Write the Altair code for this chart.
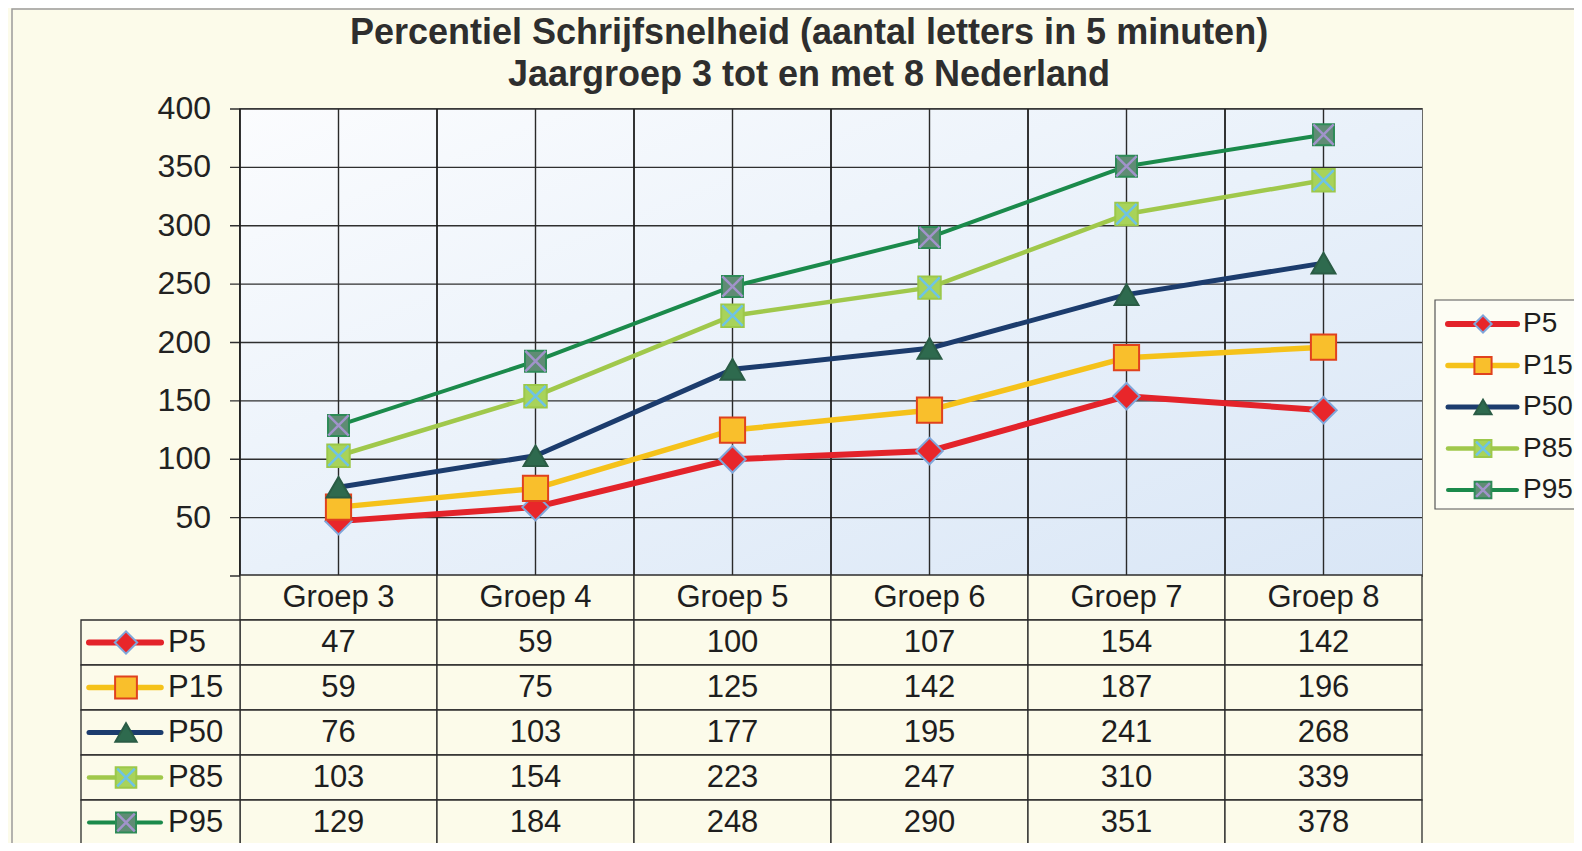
import altair as alt
import pandas as pd

# ---------------- data ----------------
groups = ["Groep 3", "Groep 4", "Groep 5", "Groep 6", "Groep 7", "Groep 8"]
series = ["P5", "P15", "P50", "P85", "P95"]
p5 = [47, 59, 100, 107, 154, 142]
p15 = [59, 75, 125, 142, 187, 196]
p50 = [76, 103, 177, 195, 241, 268]
p85 = [103, 154, 223, 247, 310, 339]
p95 = [129, 184, 248, 290, 351, 378]
y_ticks = [0, 50, 100, 150, 200, 250, 300, 350, 400]
y_labels = [50, 100, 150, 200, 250, 300, 350, 400]
title_lines = ["Percentiel Schrijfsnelheid (aantal letters in 5 minuten)",
               "Jaargroep 3 tot en met 8 Nederland"]

# ---------------- styles ----------------
line_colors = ["#E3232A", "#F5C21A", "#1C3C6D", "#A0C84B", "#1B8A4B"]
line_widths = [6, 4, 6, 7, 7]
marker_fill = ["#E8262A", "#F9BF2C", "#2E6A4E", "#A8D35A", "#5F8C74"]
marker_stroke = ["#7FA6DA", "#E0421E", "#2A5C45", "#9CC84A", "#2E8B57"]
shapes = ["diamond", "square", "triangle-up", "square", "square"]
cross_colors = {"P85": "#6EC3E6", "P95": "#A193CA"}
X_PATH = "M-0.8,-0.8L0.8,0.8M0.8,-0.8L-0.8,0.8"
FONT = "Liberation Sans"
W, H = 1182, 467
RH = 45
PAD_L, PAD_T = 232, 101
PAD_R = 1566 - PAD_L - W
PAD_B = 835 - PAD_T - H

values = {"P5": p5, "P15": p15, "P50": p50, "P85": p85, "P95": p95}
long = pd.DataFrame([{"group": g, "series": s, "row": s, "value": v}
                     for s in series for g, v in zip(groups, values[s])])
ser_df = pd.DataFrame({"series": series, "row": series})
one = pd.DataFrame({"k": [0]})

x_scale = alt.Scale(type="band", domain=groups, paddingInner=0, paddingOuter=0)
y_scale = alt.Scale(domain=[0, 400], nice=False)
color_scale = alt.Scale(domain=series, range=line_colors)
width_scale = alt.Scale(domain=series, range=line_widths)
fill_scale = alt.Scale(domain=series, range=marker_fill)
stroke_scale = alt.Scale(domain=series, range=marker_stroke)
shape_scale = alt.Scale(domain=series, range=shapes)


def X(pos=0.5):
    return alt.X("group:N", scale=x_scale, axis=None, bandPosition=pos)


def marker_layers(df, x_enc, y_enc, sizes):
    base = alt.Chart(df).encode(x=x_enc, y=y_enc)
    pts = base.mark_point(filled=True, strokeWidth=2, opacity=1).encode(
        shape=alt.Shape("series:N", scale=shape_scale, legend=None),
        fill=alt.Fill("series:N", scale=fill_scale, legend=None),
        stroke=alt.Stroke("series:N", scale=stroke_scale, legend=None),
        size=alt.Size("series:N", scale=alt.Scale(domain=series, range=sizes), legend=None),
    )
    out = [pts]
    for s, c in cross_colors.items():
        i = series.index(s)
        out.append(base.transform_filter(alt.datum.series == s).mark_point(
            shape=X_PATH, filled=False, strokeWidth=2.5, color=c,
            size=sizes[i], opacity=1))
    return out


# ---------------- frame and title ----------------
frame = alt.Chart(one).mark_rect(fillOpacity=0, stroke="#9A9A9A", strokeWidth=1.5).encode(
    x=alt.value(-228), x2=alt.value(W + 400), y=alt.value(-100), y2=alt.value(H + 400))

title_layers = [
    alt.Chart(pd.DataFrame({"t": [t]})).mark_text(
        font=FONT, fontSize=36, fontWeight="bold", color="#2E2E2E",
        align="center", baseline="middle").encode(
        text="t:N", x=alt.value(W / 2 - 22), y=alt.value(yy))
    for t, yy in zip(title_lines, [-76, -34])
]

# ---------------- main plot ----------------
grad = alt.Gradient(gradient="linear",
                    stops=[alt.GradientStop(color="#FBFCFE", offset=0),
                           alt.GradientStop(color="#E9F1FA", offset=0.5),
                           alt.GradientStop(color="#D9E6F6", offset=1)],
                    x1=0, y1=0, x2=1, y2=1)
bg = alt.Chart(one).mark_rect(fill=grad).encode(
    x=alt.value(0), x2=alt.value(W), y=alt.value(0), y2=alt.value(H))

y_tick_enc = alt.Y("v:Q", scale=y_scale, axis=None)
hgrid = alt.Chart(pd.DataFrame({"v": y_ticks})).mark_rule(color="#2F2F2F", strokeWidth=1.4).encode(
    y=y_tick_enc, x=alt.value(-10), x2=alt.value(W))
ylab = alt.Chart(pd.DataFrame({"v": y_labels})).mark_text(
    font=FONT, fontSize=32, color="#222", align="right", baseline="middle").encode(
    y=y_tick_enc, x=alt.value(-29), text="v:Q")

gdf = pd.DataFrame({"group": groups})
vedge = alt.Chart(gdf).mark_rule(color="#1E1E1E", strokeWidth=1.8).encode(x=X(0))
vcenter = alt.Chart(gdf).mark_rule(color="#2A2A2A", strokeWidth=1.4).encode(x=X(0.5))

y_val = alt.Y("value:Q", scale=y_scale, axis=None)
lines = alt.Chart(long).mark_line(strokeCap="round", strokeJoin="round").encode(
    x=X(0.5), y=y_val,
    color=alt.Color("series:N", scale=color_scale, legend=None),
    strokeWidth=alt.StrokeWidth("series:N", scale=width_scale, legend=None),
    detail="series:N")

main = alt.layer(bg, hgrid, ylab, vedge, vcenter, lines,
                 *marker_layers(long, X(0.5), y_val, [700, 440, 680, 650, 650]))

# ---------------- table ----------------
rows = ["hdr"] + series
row_scale = alt.Scale(type="band", domain=rows, range=[H - 1, H - 1 + 6 * RH],
                      paddingInner=0, paddingOuter=0)
Yr_band = alt.Y("row:N", scale=row_scale, axis=None)
Yr = alt.Y("row:N", scale=row_scale, axis=None, bandPosition=0.5)

cells = alt.Chart(pd.DataFrame([{"group": g, "row": r} for g in groups for r in rows])).mark_rect(
    fill="#FCFBEA", stroke="#2C2C2C", strokeWidth=1.3).encode(x=X(0), y=Yr_band)
left_cells = alt.Chart(ser_df).mark_rect(
    fill="#FCFBEA", stroke="#2C2C2C", strokeWidth=1.3).encode(
    x=alt.value(-159), x2=alt.value(0), y=Yr_band)
header = alt.Chart(pd.DataFrame({"group": groups, "row": ["hdr"] * len(groups)})).mark_text(
    font=FONT, fontSize=31, color="#1E1E1E", baseline="middle").encode(
    x=X(0.5), y=Yr, text="group:N")
vals = alt.Chart(long).mark_text(font=FONT, fontSize=31, color="#1E1E1E", baseline="middle").encode(
    x=X(0.5), y=Yr, text="value:Q")
left_rules = alt.Chart(ser_df).mark_rule(strokeCap="round").encode(
    x=alt.value(-151), x2=alt.value(-79), y=Yr,
    color=alt.Color("series:N", scale=color_scale, legend=None),
    strokeWidth=alt.StrokeWidth("series:N", scale=width_scale, legend=None))
left_text = alt.Chart(ser_df).mark_text(font=FONT, fontSize=31, color="#1E1E1E",
                                        align="left", baseline="middle").encode(
    x=alt.value(-72), y=Yr, text="series:N")

table = alt.layer(cells, left_cells, header, vals, left_rules,
                  *marker_layers(ser_df, alt.value(-114), Yr, [500, 400, 500, 480, 480]),
                  left_text)

# ---------------- legend ----------------
leg_scale = alt.Scale(type="point", domain=series, range=[215, 381], padding=0)
Yl = alt.Y("series:N", scale=leg_scale, axis=None)
leg_box = alt.Chart(one).mark_rect(fill="#FDFDF4", stroke="#555", strokeWidth=1.2).encode(
    x=alt.value(W + 13), x2=alt.value(W + 260), y=alt.value(191), y2=alt.value(400))
leg_rules = alt.Chart(ser_df).mark_rule(strokeCap="round").encode(
    x=alt.value(W + 26), x2=alt.value(W + 95), y=Yl,
    color=alt.Color("series:N", scale=color_scale, legend=None),
    strokeWidth=alt.StrokeWidth("series:N", scale=width_scale, legend=None))
leg_text = alt.Chart(ser_df).mark_text(font=FONT, fontSize=28, color="#1E1E1E",
                                       align="left", baseline="middle").encode(
    x=alt.value(W + 101), y=Yl, text="series:N")
legend = alt.layer(leg_box, leg_rules,
                   *marker_layers(ser_df, alt.value(W + 61), Yl, [300, 280, 330, 300, 300]),
                   leg_text)

chart = alt.layer(frame, *title_layers, main, table, legend).resolve_scale(
    y="independent", size="independent"
).properties(
    width=W, height=H,
    autosize=alt.AutoSizeParams(type="none"),
    padding={"left": PAD_L, "top": PAD_T, "right": PAD_R, "bottom": PAD_B},
    background="#FCFBEA",
).configure_view(stroke="#5A5A5A", strokeWidth=1.8)

chart.save("out.html", embed_options={"renderer": "svg", "actions": False})
